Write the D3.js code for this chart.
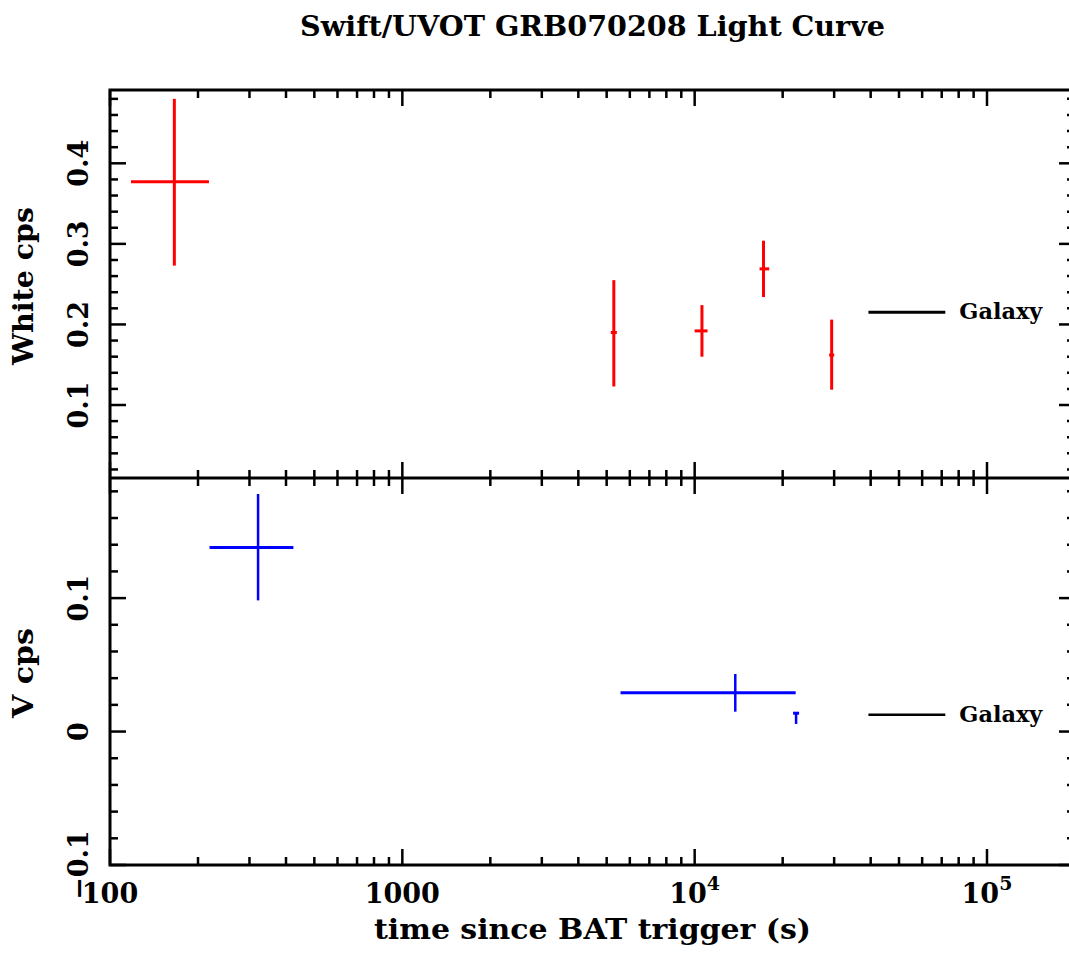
<!DOCTYPE html>
<html>
<head>
<meta charset="utf-8">
<script src="https://cdn.jsdelivr.net/npm/d3@7"></script>
<style>
  html, body { margin: 0; padding: 0; background: #fff; }
  svg { display: block; }
  text { font-family: "DejaVu Serif", "Liberation Serif", serif; font-weight: bold; fill: #000; }
</style>
</head>
<body>
<svg id="chart" width="1069" height="955"></svg>
<script>
// ---------- data ----------
const titleText = "Swift/UVOT GRB070208 Light Curve";
const xLabel = "time since BAT trigger (s)";
const whiteLabel = "White cps";
const vLabel = "V cps";
const galaxyLabel = "Galaxy";

// White filter points
const whiteTime   = [166, 5290, 10590, 17200, 29420];
const whiteTimeLo = [118, 5165, 10000, 16670, 28840];
const whiteTimeHi = [218, 5418, 11070, 17990, 30010];
const whiteRate   = [0.377, 0.190, 0.192, 0.269, 0.162];
const whiteRateLo = [0.273, 0.123, 0.160, 0.234, 0.119];
const whiteRateHi = [0.480, 0.255, 0.224, 0.304, 0.206];

// V filter points
const vTime   = [321, 13770];
const vTimeLo = [219, 5577];
const vTimeHi = [424, 22160];
const vRate   = [0.138, 0.0291];
const vRateLo = [0.0983, 0.0149];
const vRateHi = [0.178, 0.0431];

// V upper limit (short bar with cap)
const vLimTime = [22230];
const vLimTop = [0.0145];
const vLimBottom = [0.0057];

// Galaxy levels
const galaxyTime = [39300, 72000];
const whiteGalaxy = 0.215;
const vGalaxy = 0.0125;

// ticks
const xMajor = [100, 1000, 10000, 100000];
const xMajorLabels = [["100", null], ["1000", null], ["10", "4"], ["10", "5"]];
const whiteMajor = [0.1, 0.2, 0.3, 0.4];
const whiteMajorLabels = ["0.1", "0.2", "0.3", "0.4"];
const vMajor = [-0.1, 0, 0.1];
const vMajorLabels = ["\u22120.1", "0", "0.1"];

// ---------- layout ----------
const svg = d3.select("#chart");
const pL = 110, pR = 1075, pT = 90, pM = 478, pB = 865;

const x = d3.scaleLog().domain([100, 2e5]).range([pL, pR]);
const yW = d3.scaleLinear().domain([0.0094, 0.491]).range([pM, pT]);
const yV = d3.scaleLinear().domain([-0.1, 0.19]).range([pB, pM]);

// minor ticks
const xMinor = [];
for (let d = 100; d < 2e5; d *= 10) for (let k = 2; k <= 9; k++) if (d * k < 2e5) xMinor.push(d * k);
const whiteMinor = d3.range(1, 25).map(i => +(i * 0.02).toFixed(2)).filter(v => !whiteMajor.some(m => Math.abs(m - v) < 1e-9));
const vMinor = d3.range(-4, 10).map(i => +(i * 0.02).toFixed(2)).filter(v => !vMajor.some(m => Math.abs(m - v) < 1e-9));

const tickG = svg.append("g").attr("stroke", "#000").attr("stroke-width", 2.5);
const MAJ = 16, MIN = 8;

function xTicks(yPos, dir) {
  tickG.selectAll(null).data(xMajor).enter().append("line")
    .attr("x1", d => x(d)).attr("x2", d => x(d))
    .attr("y1", yPos).attr("y2", yPos + dir * MAJ);
  tickG.selectAll(null).data(xMinor).enter().append("line")
    .attr("x1", d => x(d)).attr("x2", d => x(d))
    .attr("y1", yPos).attr("y2", yPos + dir * MIN);
}
xTicks(pT, 1);
xTicks(pM, -1);
xTicks(pM, 1);
xTicks(pB, -1);

function yTicks(scale, major, minor) {
  [[pL, 1], [pR, -1]].forEach(([xp, dir]) => {
    tickG.selectAll(null).data(major).enter().append("line")
      .attr("x1", xp).attr("x2", xp + dir * MAJ)
      .attr("y1", d => scale(d)).attr("y2", d => scale(d));
    tickG.selectAll(null).data(minor).enter().append("line")
      .attr("x1", xp).attr("x2", xp + dir * MIN)
      .attr("y1", d => scale(d)).attr("y2", d => scale(d));
  });
}
yTicks(yW, whiteMajor, whiteMinor);
yTicks(yV, vMajor, vMinor);

// frames
svg.append("rect").attr("x", pL).attr("y", pT).attr("width", pR - pL).attr("height", pB - pT)
  .attr("fill", "none").attr("stroke", "#000").attr("stroke-width", 3);
svg.append("line").attr("x1", pL).attr("x2", pR).attr("y1", pM).attr("y2", pM)
  .attr("stroke", "#000").attr("stroke-width", 3);

// y tick labels (rotated)
function yLabels(scale, vals, labels) {
  svg.selectAll(null).data(vals).enter().append("text")
    .attr("transform", d => `translate(88,${scale(d)}) rotate(-90)`)
    .attr("text-anchor", "middle").attr("font-size", 27)
    .text((d, i) => labels[i]);
}
yLabels(yW, whiteMajor, whiteMajorLabels);
yLabels(yV, vMajor, vMajorLabels);

// x tick labels
const xl = svg.selectAll(null).data(xMajor).enter().append("text")
  .attr("x", d => x(d)).attr("y", 903).attr("text-anchor", "middle").attr("font-size", 27);
xl.each(function(d, i) {
  const t = d3.select(this);
  const [base, sup] = xMajorLabels[i];
  t.append("tspan").text(base);
  if (sup) t.append("tspan").attr("dy", -13).attr("font-size", 19).text(sup);
});

// axis titles
svg.append("text").attr("x", 300).attr("y", 36).attr("font-size", 28)
  .attr("textLength", 585).attr("lengthAdjust", "spacingAndGlyphs").text(titleText);
svg.append("text").attr("x", 374).attr("y", 939).attr("font-size", 27)
  .attr("textLength", 437).attr("lengthAdjust", "spacingAndGlyphs").text(xLabel);
svg.append("text").attr("transform", `translate(33,365) rotate(-90)`).attr("font-size", 28)
  .attr("textLength", 158).attr("lengthAdjust", "spacingAndGlyphs").text(whiteLabel);
svg.append("text").attr("transform", `translate(33,718) rotate(-90)`).attr("font-size", 28)
  .attr("textLength", 90).attr("lengthAdjust", "spacingAndGlyphs").text(vLabel);

// error-bar crosses
function crosses(t, tlo, thi, r, rlo, rhi, yScale, color, hw, vw) {
  const g = svg.append("g").attr("stroke", color);
  const idx = d3.range(t.length);
  g.selectAll(null).data(idx).enter().append("line")
    .attr("stroke-width", vw)
    .attr("x1", i => x(t[i])).attr("x2", i => x(t[i]))
    .attr("y1", i => yScale(rlo[i])).attr("y2", i => yScale(rhi[i]));
  g.selectAll(null).data(idx).enter().append("line")
    .attr("stroke-width", hw)
    .attr("x1", i => x(tlo[i])).attr("x2", i => x(thi[i]))
    .attr("y1", i => yScale(r[i])).attr("y2", i => yScale(r[i]));
}
crosses(whiteTime, whiteTimeLo, whiteTimeHi, whiteRate, whiteRateLo, whiteRateHi, yW, "#ff0000", 3, 3);
crosses(vTime, vTimeLo, vTimeHi, vRate, vRateLo, vRateHi, yV, "#0000ff", 3, 2.5);

// V upper limit marker
const lim = svg.append("g").attr("stroke", "#0000ff");
lim.selectAll(null).data(vLimTime).enter().append("line").attr("stroke-width", 2.5)
  .attr("x1", d => x(d)).attr("x2", d => x(d))
  .attr("y1", (d, i) => yV(vLimTop[i])).attr("y2", (d, i) => yV(vLimBottom[i]));
lim.selectAll(null).data(vLimTime).enter().append("line").attr("stroke-width", 3)
  .attr("x1", d => x(d) - 3).attr("x2", d => x(d) + 3)
  .attr("y1", (d, i) => yV(vLimTop[i]) + 1).attr("y2", (d, i) => yV(vLimTop[i]) + 1);

// galaxy markers
[[yW, whiteGalaxy, 3], [yV, vGalaxy, 2.5]].forEach(([ys, val, w]) => {
  svg.append("line").attr("x1", x(galaxyTime[0])).attr("x2", x(galaxyTime[1]))
    .attr("y1", ys(val)).attr("y2", ys(val)).attr("stroke", "#000").attr("stroke-width", w);
  svg.append("text").attr("x", x(galaxyTime[1]) + 14).attr("y", ys(val) + 7)
    .attr("font-size", 22).attr("textLength", 83).attr("lengthAdjust", "spacingAndGlyphs").text(galaxyLabel);
});
</script>
</body>
</html>
